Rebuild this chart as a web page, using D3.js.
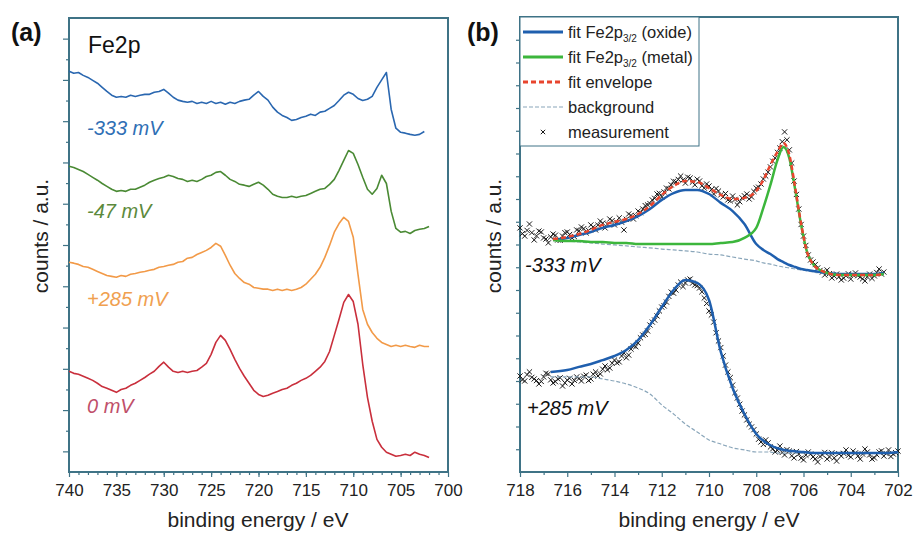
<!DOCTYPE html>
<html lang="en">
<head>
<meta charset="UTF-8">
<script src="https://cdn.jsdelivr.net/npm/d3@7"></script>
<title>Fe2p spectra</title>
</head>
<body style="margin:0; background:#fff">
<svg id="chart" width="913" height="534" font-family="Liberation Sans, Arial, sans-serif"></svg>
<script>
// ---- panel (a): Fe2p survey, 740 -> 702 eV every 0.5 eV ----
const ticksA = [740, 735, 730, 725, 720, 715, 710, 705, 700];
const spectrumN333 = [92.1, 91.6, 91.8, 91.1, 90.6, 89.9, 89.2, 88.2, 87.2, 86.3, 85.8, 86.0, 85.8, 86.3, 86.0, 86.3,
  86.5, 86.5, 87.0, 87.2, 87.7, 86.8, 85.8, 85.1, 84.8, 84.6, 84.8, 84.3, 84.6, 84.3, 84.8, 84.3, 84.6, 84.1, 84.6,
  84.3, 84.8, 85.1, 85.3, 86.3, 87.2, 86.0, 85.1, 83.4, 82.2, 81.4, 80.9, 80.2, 80.4, 80.9, 81.2, 81.7, 81.4, 82.2,
  82.4, 83.1, 83.8, 85.0, 86.3, 87.0, 86.5, 85.5, 85.0, 85.3, 86.0, 88.2, 90.0, 91.8, 82.9, 78.3, 77.3, 77.1, 76.8,
  76.6, 76.8, 77.5];
const spectrumN47 = [69.1, 68.8, 68.3, 67.8, 67.1, 66.4, 65.7, 64.9, 64.2, 63.5, 63.0, 63.2, 63.0, 63.5, 63.5, 64.0,
  64.5, 65.2, 65.7, 66.1, 66.4, 66.9, 66.6, 66.1, 65.9, 65.4, 65.7, 65.4, 65.9, 66.6, 66.9, 67.6, 67.8, 66.9, 65.9,
  65.4, 64.7, 64.5, 64.2, 64.7, 65.2, 64.5, 63.5, 62.3, 61.8, 61.5, 61.5, 61.8, 61.5, 61.8, 62.0, 62.5, 63.0, 63.5,
  63.7, 64.7, 65.9, 68.1, 70.5, 72.9, 72.2, 69.5, 66.4, 63.5, 62.3, 63.7, 66.9, 64.9, 58.2, 54.0, 53.1, 53.3, 52.8,
  53.5, 53.8, 54.0, 54.5];
const spectrumP285 = [45.8, 45.6, 45.3, 44.8, 44.6, 44.1, 43.6, 43.1, 42.6, 42.4, 42.2, 42.6, 42.4, 42.9, 43.1, 43.4,
  43.6, 43.9, 44.1, 44.6, 44.8, 45.1, 45.3, 45.8, 46.0, 46.8, 47.0, 47.7, 48.2, 48.7, 49.4, 50.4, 49.7, 47.5, 45.1,
  43.1, 41.9, 40.9, 40.5, 39.7, 39.5, 39.3, 39.3, 39.0, 39.3, 39.0, 39.3, 39.0, 39.3, 39.7, 40.5, 41.7, 42.9, 44.6,
  47.0, 49.9, 53.1, 55.2, 56.7, 55.7, 51.9, 42.9, 34.4, 30.8, 28.8, 27.4, 26.4, 25.9, 25.4, 25.7, 25.4, 25.7, 25.4,
  25.2, 25.7, 25.4, 25.4];
const spectrum0 = [19.4, 18.9, 18.7, 18.2, 17.7, 17.2, 16.5, 15.7, 15.3, 14.8, 14.3, 15.0, 15.3, 16.0, 16.5, 17.2,
  17.9, 18.7, 19.4, 20.6, 21.6, 20.4, 19.4, 19.1, 19.4, 19.1, 19.4, 19.6, 20.4, 21.3, 23.5, 26.4, 28.1, 26.9, 24.7,
  22.3, 20.1, 18.2, 16.5, 14.8, 13.8, 13.3, 13.6, 14.1, 14.5, 15.0, 15.3, 16.0, 16.5, 17.2, 17.7, 18.4, 19.4, 20.4,
  21.8, 24.2, 28.1, 32.0, 36.1, 38.0, 36.3, 30.8, 21.1, 13.1, 7.3, 2.9, 1.0, -0.2, -0.7, -1.2, -1.0, -0.7, -1.0,
  -0.2, -0.7, -1.0, -1.5];
const seriesA = [
  { name: "-333 mV", values: spectrumN333, color: "#2a67b0", text: "#2f6fb5" },
  { name: "-47 mV", values: spectrumN47, color: "#4a8a34", text: "#5c8a3c" },
  { name: "+285 mV", values: spectrumP285, color: "#f29a48", text: "#f0a050" },
  { name: "0 mV", values: spectrum0, color: "#c92f3c", text: "#c0506a" }
];

// ---- panel (b): Fe2p3/2 fits ----
const ticksB = [718, 716, 714, 712, 710, 708, 706, 704, 702];
const fitEnergyUpper = [716.6, 716, 715.5, 715, 714.5, 714, 713.5, 713, 712.5, 712, 711.5, 711, 710.5, 710, 709.5,
  709, 708.5, 708, 707.7, 707.4, 707.1, 706.85, 706.6, 706.35, 706.1, 705.85, 705.6, 705.3, 705, 704.5, 704, 703.5,
  703, 702.6];
const oxideUpper = [10.20, 10.29, 10.42, 10.55, 10.73, 10.86, 11.03, 11.25, 11.56, 11.96, 12.26, 12.40, 12.40, 12.22,
  11.83, 11.47, 10.90, 10.02, 9.76, 9.58, 9.36, 9.23, 9.10, 9.01, 8.92, 8.88, 8.84, 8.79, 8.75, 8.70, 8.70, 8.70,
  8.70, 8.75];
const metalUpper = [10.20, 10.15, 10.15, 10.11, 10.11, 10.07, 10.07, 10.02, 10.02, 10.02, 10.02, 10.02, 10.02, 10.02,
  10.07, 10.11, 10.29, 10.73, 11.61, 12.62, 13.72, 14.29, 13.80, 12.40, 10.86, 9.67, 9.14, 8.88, 8.75, 8.66, 8.66,
  8.66, 8.66, 8.70];
const envelopeUpper = [10.24, 10.33, 10.46, 10.64, 10.86, 10.99, 11.12, 11.34, 11.69, 12.18, 12.57, 12.79, 12.75,
  12.48, 12.18, 12.00, 12.05, 12.35, 12.84, 13.50, 14.07, 14.46, 13.94, 12.48, 10.90, 9.67, 9.14, 8.88, 8.75, 8.66,
  8.66, 8.66, 8.66, 8.70];
const backgroundUpper = [10.20, 10.15, 10.11, 10.07, 10.02, 9.98, 9.94, 9.89, 9.85, 9.80, 9.76, 9.72, 9.67, 9.58,
  9.54, 9.45, 9.36, 9.28, 9.19, 9.14, 9.06, 9.01, 8.97, 8.92, 8.88, 8.84, 8.79, 8.75, 8.70, 8.66, 8.66, 8.66, 8.66,
  8.70];
// measured points, 718 eV downwards every 0.1 eV
const measUpper = [10.73, 10.48, 10.37, 10.62, 10.90, 10.52, 10.20, 10.38, 10.59, 10.55, 10.29, 10.24, 10.07, 10.33,
  10.46, 10.41, 10.20, 10.18, 10.37, 10.52, 10.55, 10.44, 10.29, 10.35, 10.64, 10.60, 10.77, 10.70, 10.51, 10.62,
  10.86, 10.77, 10.64, 10.85, 11.03, 10.94, 10.73, 10.90, 11.12, 11.05, 10.86, 10.97, 11.17, 10.98, 10.64, 11.11,
  11.34, 11.28, 11.12, 11.26, 11.47, 11.40, 11.56, 11.71, 11.74, 11.80, 11.96, 12.03, 12.22, 12.25, 12.09, 12.31,
  12.48, 12.44, 12.62, 12.78, 12.75, 12.86, 13.01, 12.83, 12.70, 12.96, 12.92, 12.74, 12.62, 12.87, 12.79, 12.58,
  12.48, 12.66, 12.57, 12.41, 12.22, 12.46, 12.35, 12.18, 12.09, 12.24, 11.96, 11.92, 12.13, 11.98, 11.74, 11.88,
  12.05, 12.14, 12.22, 12.00, 12.09, 12.33, 12.48, 12.52, 12.66, 12.88, 13.01, 13.18, 13.41, 13.66, 13.80, 14.05,
  14.24, 14.52, 14.95, 14.60, 14.16, 13.58, 12.79, 12.20, 11.56, 10.88, 10.37, 9.96, 9.54, 9.32, 9.23, 9.12, 8.97,
  8.86, 8.79, 8.66, 8.88, 8.72, 8.53, 8.61, 8.70, 8.58, 8.44, 8.52, 8.62, 8.71, 8.48, 8.66, 8.75, 8.63, 8.57, 8.49,
  8.40, 8.58, 8.70, 8.51, 8.62, 8.77, 8.92, 8.70, 8.79];
const fitEnergyLower = [716.7, 716, 715.5, 715, 714.5, 714, 713.5, 713, 712.5, 712, 711.5, 711, 710.5, 710, 709.5,
  709, 708.5, 708, 707.5, 707, 706.5, 706, 705.5, 705, 704.5, 704, 703.5, 703, 702.5, 702];
const oxideLower = [4.40, 4.48, 4.62, 4.75, 4.92, 5.10, 5.36, 5.80, 6.46, 7.25, 8.00, 8.44, 8.31, 7.56, 5.28, 3.69,
  2.55, 1.67, 1.23, 1.01, 0.92, 0.88, 0.83, 0.83, 0.83, 0.83, 0.83, 0.83, 0.83, 0.88];
const backgroundLower = [4.18, 4.18, 4.18, 4.18, 4.09, 4.00, 3.87, 3.69, 3.43, 2.95, 2.55, 2.11, 1.76, 1.41, 1.23,
  1.06, 0.97, 0.88, 0.88, 0.83, 0.83, 0.83, 0.83, 0.83, 0.83, 0.83, 0.83, 0.83, 0.83, 0.83];
const measLower = [4.22, 4.05, 4.00, 4.28, 4.40, 4.16, 4.09, 4.02, 3.87, 3.98, 4.18, 4.34, 4.31, 4.05, 3.91, 3.97,
  4.09, 4.14, 3.78, 3.92, 4.04, 4.12, 3.87, 4.03, 4.18, 4.11, 4.00, 4.21, 4.26, 4.02, 4.09, 4.30, 4.40, 4.22, 4.31,
  4.52, 4.66, 4.49, 4.57, 4.78, 4.92, 4.80, 4.84, 5.10, 5.23, 5.02, 5.14, 5.40, 5.54, 5.51, 5.67, 5.90, 6.02, 6.05,
  6.20, 6.46, 6.59, 6.68, 6.86, 7.08, 7.25, 7.30, 7.47, 7.72, 7.91, 7.86, 8.00, 8.22, 8.35, 8.15, 8.31, 8.44, 8.48,
  8.30, 8.22, 8.19, 8.09, 7.92, 7.65, 7.41, 7.08, 6.90, 6.59, 6.12, 5.76, 5.47, 5.10, 4.70, 4.40, 4.15, 3.82, 3.49,
  3.25, 2.98, 2.68, 2.51, 2.29, 2.10, 1.98, 1.86, 1.67, 1.44, 1.32, 1.21, 1.41, 1.28, 1.10, 1.02, 0.88, 0.95, 1.14,
  0.86, 0.75, 0.98, 0.92, 0.71, 0.62, 0.90, 0.79, 0.61, 0.53, 0.74, 0.88, 0.79, 0.66, 0.58, 0.44, 0.68, 0.75, 0.86,
  0.57, 0.66, 0.84, 0.62, 0.48, 0.80, 0.70, 0.82, 0.97, 0.73, 0.66, 0.92, 0.84, 0.70, 0.57, 0.79, 1.01, 0.88, 0.75,
  0.57, 0.62, 0.76, 0.88, 0.93, 0.70, 0.81, 0.97, 0.68, 0.79, 0.85, 0.92];

const svg = d3.select("#chart");
const axisColor = "#3f7386";

function styleAxis(g) {
  g.attr("color", axisColor);
  g.select(".domain").remove();
  g.selectAll(".tick line").attr("stroke", axisColor).attr("stroke-width", 1.2);
  g.selectAll(".tick text").attr("fill", "#222").attr("font-size", 17)
    .attr("font-family", "Liberation Sans, Arial, sans-serif");
}

// plot area: white box with a border, drawn underneath everything in the panel
function plotBox(g, x, y) {
  const [x0, x1] = x.range(), [y0, y1] = y.range();
  g.append("rect").attr("x", x0).attr("y", y1).attr("width", x1 - x0).attr("height", y0 - y1)
    .attr("fill", "#fff").attr("stroke", axisColor).attr("stroke-width", 2);
}

// ================= panel (a) =================
const xA = d3.scaleLinear().domain([740, 700]).range([69, 448]);
const yA = d3.scaleLinear().domain([-5, 105]).range([472, 18]);
const gA = svg.append("g");
plotBox(gA, xA, yA);

gA.append("g").attr("transform", "translate(0,472)")
  .call(d3.axisBottom(xA).tickValues(d3.range(701, 740, 1)).tickSize(3).tickFormat("")).call(styleAxis);
gA.append("g").attr("transform", "translate(0,472)")
  .call(d3.axisBottom(xA).tickValues(ticksA).tickSize(5).tickPadding(7).tickFormat(d3.format("d")))
  .call(styleAxis);
gA.append("g").attr("transform", "translate(69,0)")
  .call(d3.axisLeft(yA).tickValues(d3.range(0, 101, 10)).tickSize(6).tickFormat("")).call(styleAxis);
gA.append("g").attr("transform", "translate(69,0)")
  .call(d3.axisLeft(yA).tickValues(d3.range(5, 101, 10)).tickSize(3).tickFormat("")).call(styleAxis);

const lineA = d3.line().x(d => xA(d[0])).y(d => yA(d[1]));
seriesA.forEach(s => {
  gA.append("path").attr("fill", "none").attr("stroke-width", 1.6).attr("stroke-linejoin", "round")
    .attr("stroke", s.color)
    .attr("d", lineA(s.values.map((v, i) => [740 - 0.5 * i, v])));
});

const labelYA = [135, 218, 306, 413];
seriesA.forEach((s, i) => {
  gA.append("text").attr("x", 87).attr("y", labelYA[i]).attr("font-size", 20).attr("font-style", "italic")
    .attr("fill", s.text).text(s.name);
});
gA.append("text").attr("x", 88).attr("y", 53).attr("font-size", 23).attr("fill", "#111").text("Fe2p");
gA.append("text").attr("x", 11).attr("y", 41).attr("font-size", 25).attr("font-weight", "bold")
  .attr("fill", "#111").text("(a)");
gA.append("text").attr("x", 258).attr("y", 527).attr("text-anchor", "middle").attr("font-size", 21)
  .attr("fill", "#222").text("binding energy / eV");
gA.append("text").attr("transform", "translate(41,236) rotate(-90)").attr("text-anchor", "middle")
  .attr("dy", "0.35em").attr("font-size", 21).attr("fill", "#222").text("counts / a.u.");

// ================= panel (b) =================
const xB = d3.scaleLinear().domain([718, 702]).range([520, 898]);
const yB = d3.scaleLinear().domain([0, 20]).range([472, 17]);
const gB = svg.append("g");
plotBox(gB, xB, yB);

gB.append("g").attr("transform", "translate(0,472)")
  .call(d3.axisBottom(xB).tickValues(d3.range(703, 718, 2)).tickSize(3).tickFormat("")).call(styleAxis);
gB.append("g").attr("transform", "translate(0,472)")
  .call(d3.axisBottom(xB).tickValues(ticksB).tickSize(5).tickPadding(7).tickFormat(d3.format("d")))
  .call(styleAxis);
gB.append("g").attr("transform", "translate(520,0)")
  .call(d3.axisLeft(yB).tickValues(d3.range(1, 20, 1)).tickSize(4).tickFormat("")).call(styleAxis);

const lineB = d3.line().x(d => xB(d[0])).y(d => yB(d[1])).curve(d3.curveMonotoneX);
const pairs = (es, vs) => vs.map((v, i) => [es[i], v]);
const crossPath = "M-2.6,-2.6L2.6,2.6M-2.6,2.6L2.6,-2.6";

function drawMeas(vals) {
  gB.append("g").selectAll("path").data(vals.map((v, i) => [718 - 0.1 * i, v])).join("path")
    .attr("d", crossPath)
    .attr("transform", d => `translate(${xB(d[0])},${yB(d[1])})`)
    .attr("stroke", "#1a1a1a").attr("stroke-width", 1).attr("fill", "none");
}

drawMeas(measUpper);
drawMeas(measLower);

function fit(es, vs, color, width, dash) {
  gB.append("path").attr("fill", "none").attr("stroke", color).attr("stroke-width", width)
    .attr("stroke-dasharray", dash).attr("d", lineB(pairs(es, vs)));
}
fit(fitEnergyUpper, backgroundUpper, "#8aa6ba", 1.2, "4,2");
fit(fitEnergyLower, backgroundLower, "#8aa6ba", 1.2, "4,2");
fit(fitEnergyUpper, oxideUpper, "#1f5fae", 2.5, null);
fit(fitEnergyUpper, metalUpper, "#3cb63c", 2.5, null);
fit(fitEnergyUpper, envelopeUpper, "#e8452e", 2.5, "5,3");
fit(fitEnergyLower, oxideLower, "#1f5fae", 2.5, null);

// legend
const legend = gB.append("g");
legend.append("rect").attr("x", 520).attr("y", 17).attr("width", 179).attr("height", 129)
  .attr("fill", "#fff").attr("stroke", axisColor).attr("stroke-width", 1);
const legendRows = [
  { label: "fit Fe2p", sub: "3/2", tail: " (oxide)", color: "#1f5fae", w: 3, dash: null },
  { label: "fit Fe2p", sub: "3/2", tail: " (metal)", color: "#3cb63c", w: 3, dash: null },
  { label: "fit envelope", color: "#e8452e", w: 3, dash: "5,3" },
  { label: "background", color: "#8aa6ba", w: 1.2, dash: "4,2" },
  { label: "measurement", marker: true }
];
legendRows.forEach((r, i) => {
  const cy = 32 + i * 25;
  if (r.marker) {
    legend.append("path").attr("d", "M-2.2,-2.2L2.2,2.2M-2.2,2.2L2.2,-2.2")
      .attr("transform", `translate(543,${cy})`).attr("stroke", "#1a1a1a").attr("stroke-width", 1);
  } else {
    legend.append("line").attr("x1", 523).attr("x2", 563).attr("y1", cy).attr("y2", cy)
      .attr("stroke", r.color).attr("stroke-width", r.w).attr("stroke-dasharray", r.dash);
  }
  const t = legend.append("text").attr("x", 568).attr("y", cy + 6).attr("font-size", 16.5).attr("fill", "#222");
  t.append("tspan").text(r.label);
  if (r.sub) {
    t.append("tspan").attr("font-size", 10).attr("dy", 4).text(r.sub);
    t.append("tspan").attr("dy", -4).text(r.tail);
  }
});

gB.append("text").attr("x", 525).attr("y", 272).attr("font-size", 20).attr("font-style", "italic")
  .attr("fill", "#111").text("-333 mV");
gB.append("text").attr("x", 527).attr("y", 415).attr("font-size", 20).attr("font-style", "italic")
  .attr("fill", "#111").text("+285 mV");
gB.append("text").attr("x", 467).attr("y", 41).attr("font-size", 25).attr("font-weight", "bold")
  .attr("fill", "#111").text("(b)");
gB.append("text").attr("x", 709).attr("y", 527).attr("text-anchor", "middle").attr("font-size", 21)
  .attr("fill", "#222").text("binding energy / eV");
gB.append("text").attr("transform", "translate(494,236) rotate(-90)").attr("text-anchor", "middle")
  .attr("dy", "0.35em").attr("font-size", 21).attr("fill", "#222").text("counts / a.u.");
</script>
</body>
</html>
